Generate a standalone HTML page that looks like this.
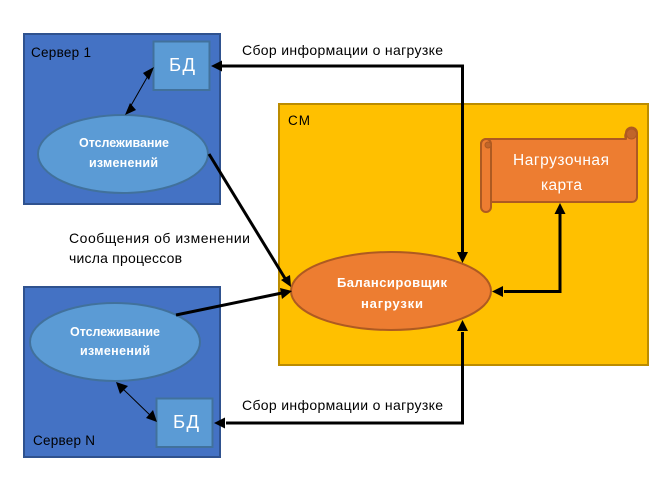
<!DOCTYPE html>
<html><head><meta charset="utf-8">
<style>
html,body{margin:0;padding:0;background:#fff;width:667px;height:478px;overflow:hidden}
svg{display:block}
text{font-family:"Liberation Sans","DejaVu Sans",sans-serif;}
</style></head><body>
<svg width="667" height="478" viewBox="0 0 667 478" xmlns="http://www.w3.org/2000/svg">
<!-- Server 1 -->
<rect x="24" y="34" width="196" height="170" fill="#4472c4" stroke="#2f528f" stroke-width="2"/>
<rect x="153.500" y="41.500" width="56" height="48.500" fill="#5b9bd5" stroke="#41719c" stroke-width="2"/>
<ellipse cx="123" cy="154" rx="85" ry="39" fill="#5b9bd5" stroke="#41719c" stroke-width="2"/>
<text x="31" y="57" font-size="13.500" fill="#000" textLength="60">Сервер 1</text>
<text x="169" y="71" font-size="18.500" fill="#fff" textLength="26">БД</text>
<text x="79" y="147" font-size="12.500" font-weight="bold" fill="#fff" textLength="90">Отслеживание</text>
<text x="89" y="167" font-size="12.500" font-weight="bold" fill="#fff" textLength="69">изменений</text>
<!-- Server N -->
<rect x="24" y="287" width="196" height="170" fill="#4472c4" stroke="#2f528f" stroke-width="2"/>
<rect x="156.500" y="398.500" width="56" height="48.500" fill="#5b9bd5" stroke="#41719c" stroke-width="2"/>
<ellipse cx="115" cy="342" rx="85" ry="39" fill="#5b9bd5" stroke="#41719c" stroke-width="2"/>
<text x="33" y="445" font-size="13.500" fill="#000" textLength="62">Сервер N</text>
<text x="173" y="428" font-size="18.500" fill="#fff" textLength="26">БД</text>
<text x="70" y="336" font-size="12.500" font-weight="bold" fill="#fff" textLength="90">Отслеживание</text>
<text x="80" y="355" font-size="12.500" font-weight="bold" fill="#fff" textLength="70">изменений</text>
<!-- CM -->
<rect x="279" y="104" width="369" height="261" fill="#ffc000" stroke="#bc8c00" stroke-width="2"/>
<text x="288" y="125" font-size="13.500" fill="#000" textLength="22">СМ</text>
<ellipse cx="391" cy="291" rx="100" ry="39" fill="#ed7d31" stroke="#ae5a21" stroke-width="2"/>
<text x="337" y="287" font-size="13" font-weight="bold" fill="#fff" textLength="110">Балансировщик</text>
<text x="361" y="308" font-size="13" font-weight="bold" fill="#fff" textLength="62">нагрузки</text>
<!-- Scroll -->
<path d="M491 139 H626 V133 A5.500 5.500 0 0 1 637 133 V197 A5 5 0 0 1 632 202 H491 V207 A5 5 0 0 1 481 207 V144 A5 5 0 0 1 486 139 Z" fill="#ed7d31" stroke="#ae5a21" stroke-width="2" stroke-linejoin="round"/>
<path d="M481 144 A5 5 0 0 1 491 144 V202" fill="none" stroke="#ae5a21" stroke-width="2"/>
<circle cx="488" cy="145" r="3" fill="#c0652a" stroke="#ae5a21"/>
<path d="M626 139 A5.500 5.500 0 0 1 637 133" fill="none" stroke="#ae5a21" stroke-width="2"/>
<circle cx="631.500" cy="134" r="5" fill="#c0652a" stroke="#ae5a21"/>
<text x="513" y="165" font-size="15.500" fill="#fff" textLength="96">Нагрузочная</text>
<text x="541" y="190" font-size="15.500" fill="#fff" textLength="41">карта</text>
<!-- labels -->
<text x="242" y="55" font-size="14" fill="#000" textLength="201">Сбор информации о нагрузке</text>
<text x="242" y="410" font-size="14" fill="#000" textLength="201">Сбор информации о нагрузке</text>
<text x="69" y="243" font-size="14" fill="#000" textLength="181">Сообщения об изменении</text>
<text x="69" y="263" font-size="14" fill="#000" textLength="113">числа процессов</text>
<!-- thin arrows -->
<line x1="149" y1="74" x2="129" y2="109" stroke="#000" stroke-width="1"/>
<polygon points="154,67 143,73 149,80" fill="#000"/>
<polygon points="125,115 136,110 130,103" fill="#000"/>
<line x1="122" y1="388" x2="152" y2="417" stroke="#000" stroke-width="1"/>
<polygon points="116,382 120,394 128,386" fill="#000"/>
<polygon points="157,422 153,410 146,418" fill="#000"/>
<!-- thick connectors -->
<g fill="none" stroke="#000" stroke-width="3">
<path d="M220 66 H462.500 V252"/>
<path d="M226 423 H462.500 V332"/>
<path d="M504 291.500 H560 V212"/>
<line x1="209" y1="154" x2="286" y2="280"/>
<line x1="176" y1="315" x2="282" y2="293"/>
</g>
<polygon points="211,66 222,60.500 222,71.500" fill="#000"/>
<polygon points="214,423 225,417.500 225,428.500" fill="#000"/>
<polygon points="462.500,263 457,252 468,252" fill="#000"/>
<polygon points="462.500,320 457,331 468,331" fill="#000"/>
<polygon points="492,291.500 503,286 503,297" fill="#000"/>
<polygon points="560,203 554.500,214 565.500,214" fill="#000"/>
<polygon points="291,287 290,275 281,280" fill="#000"/>
<polygon points="292,291 280,288 282,299" fill="#000"/>
</svg>
</body></html>
